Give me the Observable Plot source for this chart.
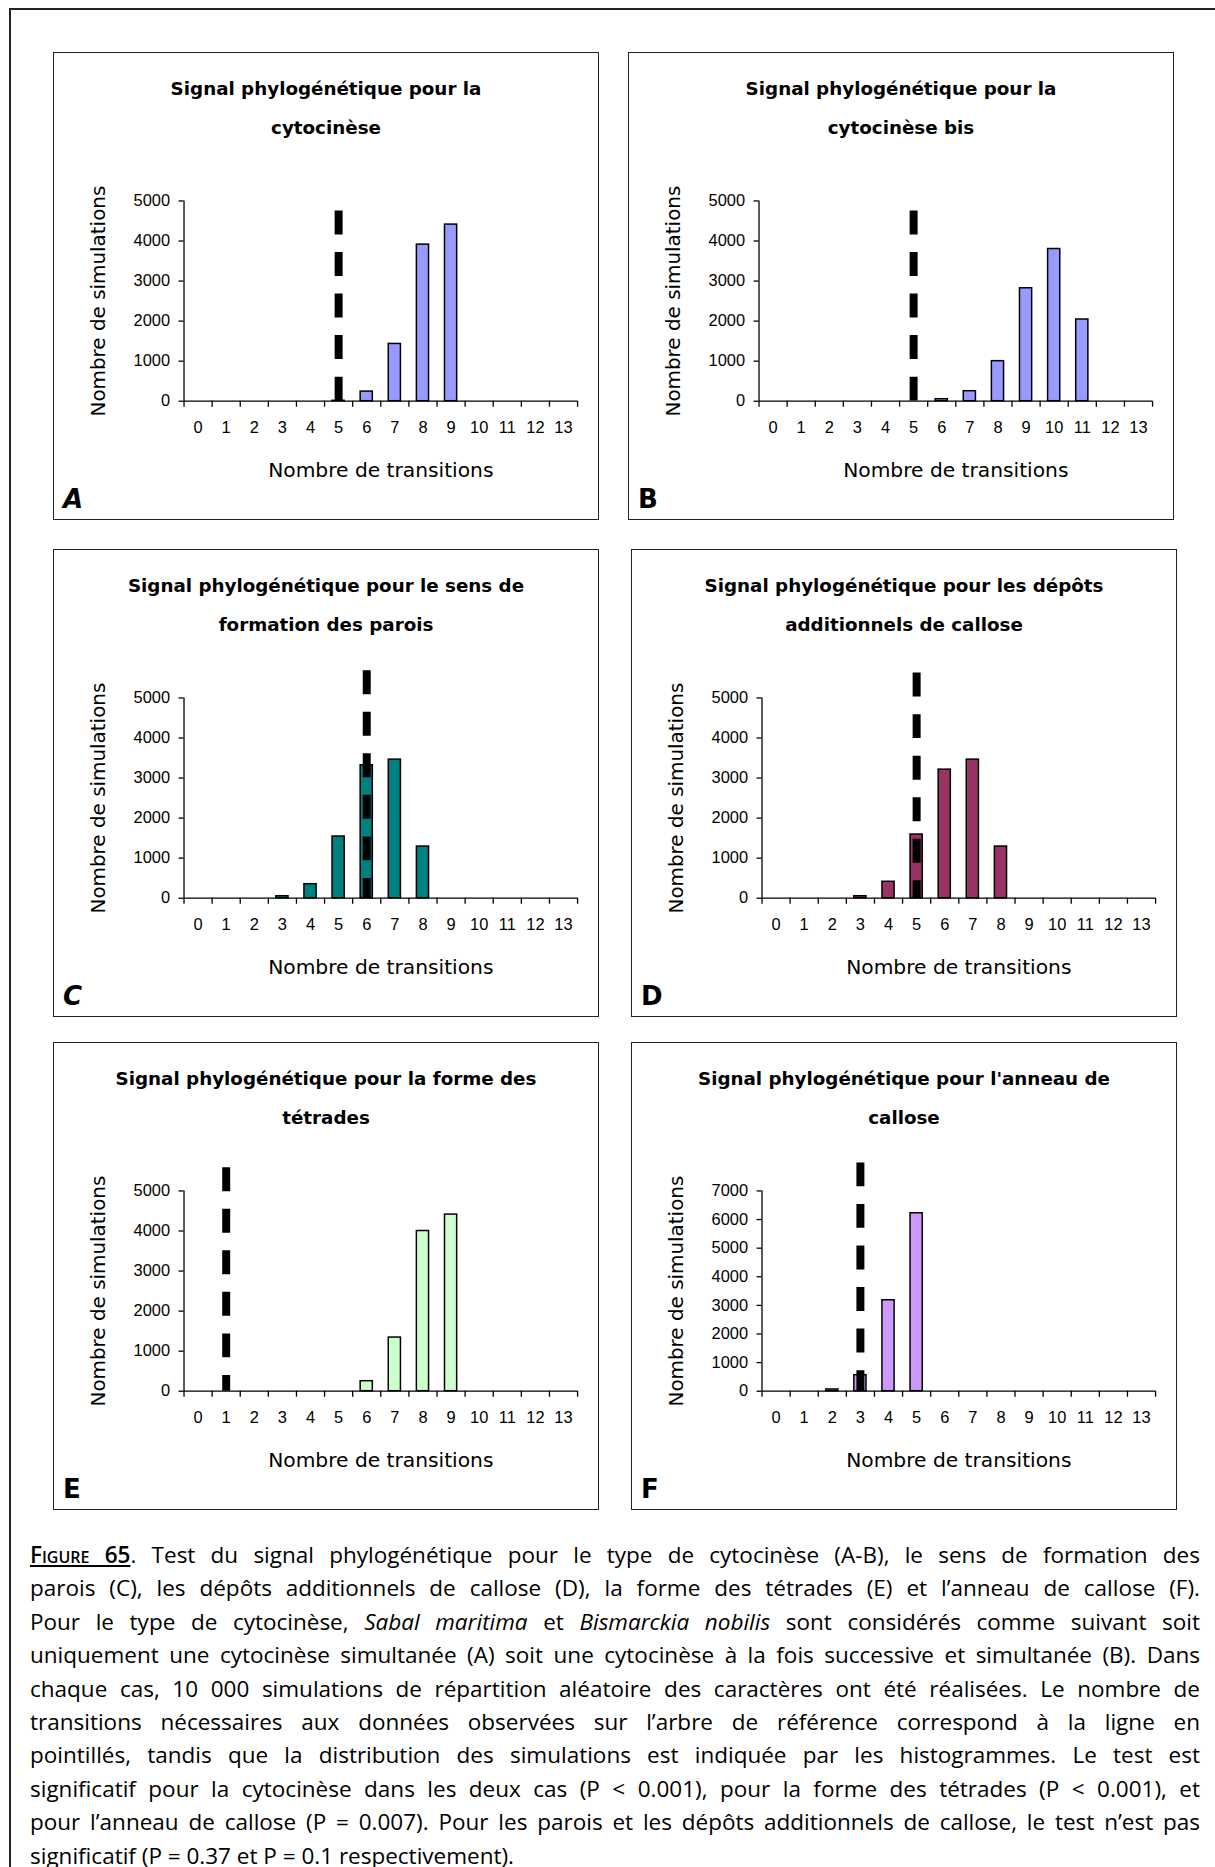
<!DOCTYPE html>
<html>
<head>
<meta charset="utf-8">
<script src="https://cdn.jsdelivr.net/npm/d3@7"></script>
<script src="https://cdn.jsdelivr.net/npm/@observablehq/plot@0.6"></script>
<style>
  html, body { margin: 0; padding: 0; background: #fff; }
  body { width: 1215px; height: 1867px; position: relative; overflow: hidden; font-family: "DejaVu Sans", sans-serif; color: #000; }
  .frame { position: absolute; left: 9px; top: 8px; width: 1230px; height: 1900px; border-left: 2px solid #222; border-top: 2px solid #222; }
  .panel { position: absolute; width: 546px; height: 468px; border: 1.5px solid #222; box-sizing: border-box; background: #fff; }
  .panel svg { position: absolute; left: -1.5px; top: -1.5px; overflow: visible; }
  .title { position: absolute; left: 0; right: 0; top: 16px; text-align: center; font-weight: bold; font-size: 18.3px; line-height: 39px; white-space: nowrap; }
  .letter { position: absolute; left: 9px; top: 431px; font-weight: bold; font-size: 26px; line-height: 30px; }
  .letter.it { font-style: italic; }
  .caption { position: absolute; left: 30px; width: 1170px; top: 1538px; font-family: "Open Sans", sans-serif; font-size: 22.5px; line-height: 33.4px; }
  .caption div { white-space: nowrap; text-align: justify; text-align-last: justify; }
  .caption div.last { text-align-last: left; }
  .fig { font-variant: small-caps; text-decoration: underline; font-weight: 600; }
</style>
</head>
<body>
<div class="frame"></div>
<div id="panels"></div>
<div class="caption" id="caption"></div>
<script>
// ---------------- data ----------------
const panelIds = ["A", "B", "C", "D", "E", "F"];
const titleLines = [
  ["Signal phylogénétique pour la", "cytocinèse"],
  ["Signal phylogénétique pour la", "cytocinèse bis"],
  ["Signal phylogénétique pour le sens de", "formation des parois"],
  ["Signal phylogénétique pour les dépôts", "additionnels de callose"],
  ["Signal phylogénétique pour la forme des", "tétrades"],
  ["Signal phylogénétique pour l'anneau de", "callose"]
];
const transitions = [0, 1, 2, 3, 4, 5, 6, 7, 8, 9, 10, 11, 12, 13];
const countsA = [0, 0, 0, 0, 0, 10, 240, 1430, 3910, 4410, 0, 0, 0, 0];
const countsB = [0, 0, 0, 0, 0, 0, 50, 250, 1000, 2820, 3800, 2040, 0, 0];
const countsC = [0, 0, 0, 50, 350, 1540, 3320, 3460, 1290, 0, 0, 0, 0, 0];
const countsD = [0, 0, 0, 50, 410, 1590, 3210, 3460, 1290, 0, 0, 0, 0, 0];
const countsE = [0, 0, 0, 0, 0, 0, 250, 1340, 4000, 4410, 0, 0, 0, 0];
const countsF = [0, 0, 60, 560, 3180, 6220, 0, 0, 0, 0, 0, 0, 0, 0];
const observedTransitions = [5, 5, 6, 5, 1, 3];
const observedLineTop = [4750, 4750, 5680, 5620, 5580, 7980];
const yMax = [5000, 5000, 5000, 5000, 5000, 7000];
const xLabel = "Nombre de transitions";
const yLabel = "Nombre de simulations";
const barColors = ["#9999FF", "#9999FF", "#008080", "#993366", "#CCFFCC", "#CC99FF"];

// ---------------- layout ----------------
const allCounts = [countsA, countsB, countsC, countsD, countsE, countsF];
const panelPos = [
  {left: 53, top: 52}, {left: 628, top: 52},
  {left: 53, top: 549}, {left: 631, top: 549},
  {left: 53, top: 1042}, {left: 631, top: 1042}
];
const italicLetters = ["A", "C"];
const W = 546, H = 468;
const labelFont = "DejaVu Sans, sans-serif";
const tickFont = "Liberation Sans, Arial, sans-serif";

const container = document.getElementById("panels");
panelIds.forEach((id, i) => {
  const div = document.createElement("div");
  div.className = "panel";
  div.style.left = panelPos[i].left + "px";
  div.style.top = panelPos[i].top + "px";

  const data = transitions
    .map((k, j) => ({k, count: allCounts[i][j]}))
    .filter(d => d.count > 0);

  const chart = Plot.plot({
    width: W,
    height: H,
    marginLeft: 131,
    marginRight: 20,
    marginTop: 149,
    marginBottom: 118,
    style: {background: "transparent", fontFamily: tickFont, fontSize: "16.5px", color: "#000", overflow: "visible"},
    x: {type: "linear", domain: [0, transitions.length], label: null},
    y: {domain: [0, yMax[i]], label: null},
    marks: [
      Plot.rectY(data, {x: "k", y: "count", interval: 1, insetLeft: 8, insetRight: 8,
        fill: barColors[i], stroke: "#000", strokeWidth: 1.5}),
      Plot.ruleY([0], {stroke: "#000", strokeWidth: 1.3}),
      Plot.ruleX([0], {stroke: "#000", strokeWidth: 1.3}),
      Plot.axisX(d3.range(transitions.length + 1), {tickSize: 6, tickFormat: () => "", label: null, strokeWidth: 1.3}),
      Plot.text(transitions, {x: d => d + 0.5, frameAnchor: "bottom", dy: 27, lineAnchor: "middle",
        fontSize: 16.5, fontFamily: tickFont, fill: "#000"}),
      Plot.axisY(d3.range(0, yMax[i] + 1, 1000), {tickSize: 5, tickPadding: 9, tickFormat: "d", label: null,
        fontSize: 16.5, strokeWidth: 1.3}),
      Plot.ruleX([observedTransitions[i]], {x: d => d + 0.5, y1: observedLineTop[i], y2: 0,
        stroke: "#000", strokeWidth: 8, strokeDasharray: "24,17.7"}),
      Plot.text([yLabel], {frameAnchor: "left", dx: -86, rotate: -90, textAnchor: "middle", lineAnchor: "middle",
        fontSize: 20, fontFamily: labelFont, fill: "#000"}),
      Plot.text([xLabel], {frameAnchor: "bottom", dy: 70, textAnchor: "middle", lineAnchor: "middle",
        fontSize: 20.3, fontFamily: labelFont, fill: "#000"})
    ]
  });
  div.appendChild(chart);

  const title = document.createElement("div");
  title.className = "title";
  title.innerHTML = titleLines[i].join("<br>");
  div.appendChild(title);

  const letter = document.createElement("div");
  letter.className = "letter" + (italicLetters.includes(id) ? " it" : "");
  letter.textContent = id;
  div.appendChild(letter);

  container.appendChild(div);
});

// ---------------- caption ----------------
const captionLines = [
  '<span class="fig">Figure 65</span>. Test du signal phylogénétique pour le type de cytocinèse (A-B), le sens de formation des',
  'parois (C), les dépôts additionnels de callose (D), la forme des tétrades (E) et l’anneau de callose (F).',
  'Pour le type de cytocinèse, <i>Sabal maritima</i> et <i>Bismarckia nobilis</i> sont considérés comme suivant soit',
  'uniquement une cytocinèse simultanée (A) soit une cytocinèse à la fois successive et simultanée (B). Dans',
  'chaque cas, 10 000 simulations de répartition aléatoire des caractères ont été réalisées. Le nombre de',
  'transitions nécessaires aux données observées sur l’arbre de référence correspond à la ligne en',
  'pointillés, tandis que la distribution des simulations est indiquée par les histogrammes. Le test est',
  'significatif pour la cytocinèse dans les deux cas (P &lt; 0.001), pour la forme des tétrades (P &lt; 0.001),  et',
  'pour l’anneau de callose (P = 0.007). Pour les parois et les dépôts additionnels de callose, le test n’est pas',
  'significatif (P = 0.37 et P = 0.1 respectivement).'
];
const cap = document.getElementById("caption");
captionLines.forEach((line, j) => {
  const d = document.createElement("div");
  if (j === captionLines.length - 1) d.className = "last";
  d.innerHTML = line;
  cap.appendChild(d);
});
</script>
</body>
</html>
